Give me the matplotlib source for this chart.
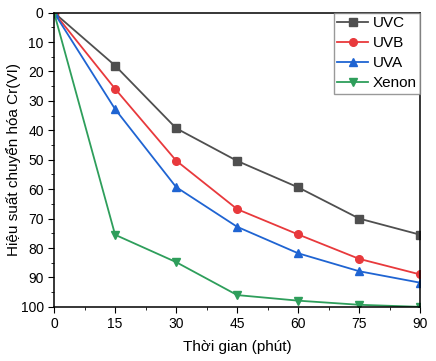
import numpy as np
import matplotlib
matplotlib.use('Agg')
import matplotlib.pyplot as plt
from matplotlib.ticker import MultipleLocator

plt.rcParams['font.family'] = ['Liberation Sans', 'DejaVu Sans']

# Data
time_min = [0, 15, 30, 45, 60, 75, 90]
uvc = [0, 18.0, 39.3, 50.4, 59.4, 70.0, 75.5]
uvb = [0, 25.9, 50.3, 66.8, 75.4, 83.7, 89.0]
uva = [0, 32.8, 59.3, 72.8, 81.8, 87.9, 91.8]
xenon = [0, 75.5, 84.8, 96.0, 97.9, 99.3, 100.0]

series = [
    ('UVC', uvc, '#4f4f4f', 's'),
    ('UVB', uvb, '#e8393c', 'o'),
    ('UVA', uva, '#1f64d2', '^'),
    ('Xenon', xenon, '#2e9e5b', 'v'),
]

fig = plt.figure(figsize=(4.36, 3.61), dpi=100)
ax = fig.add_axes([0.124, 0.150, 0.840, 0.815])

for name, vals, color, marker in series:
    ax.plot(time_min, vals, color=color, marker=marker, markersize=5.5,
            linewidth=1.3, label=name)

ax.set_xlim(0, 90)
ax.set_ylim(100, 0)
ax.xaxis.set_major_locator(MultipleLocator(15))
ax.xaxis.set_minor_locator(MultipleLocator(7.5))
ax.yaxis.set_major_locator(MultipleLocator(10))
ax.yaxis.set_minor_locator(MultipleLocator(5))
ax.tick_params(which='both', direction='out', labelsize=10)
ax.tick_params(which='major', length=4)
ax.tick_params(which='minor', length=2.5)
for s in ax.spines.values():
    s.set_linewidth(1.1)

ax.set_xlabel('Thời gian (phút)', fontsize=11, labelpad=6)
ax.set_ylabel('Hiệu suất chuyển hóa Cr(VI)', fontsize=11, labelpad=0)

leg = ax.legend(loc='upper right', fontsize=11, frameon=True, fancybox=False,
                borderaxespad=0, borderpad=0.25, handlelength=2.0,
                handletextpad=0.3, labelspacing=0.38)
leg.get_frame().set_edgecolor('#808080')
leg.get_frame().set_linewidth(1.0)

fig.savefig('out.png', dpi=100)
